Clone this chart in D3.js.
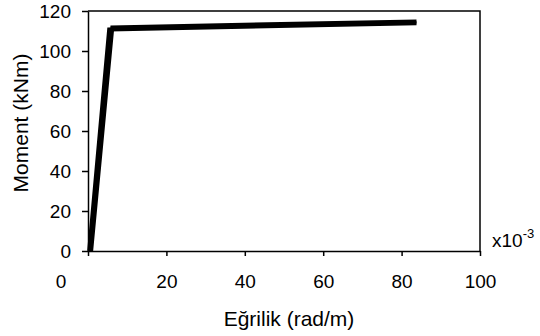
<!DOCTYPE html>
<html>
<head>
<meta charset="utf-8">
<script src="https://cdn.jsdelivr.net/npm/d3@7"></script>
<style>
  html, body { margin: 0; padding: 0; background: #fff; }
  text { font-family: "Liberation Sans", Arial, sans-serif; fill: #000; }
</style>
</head>
<body>
<svg id="chart" width="540" height="336"></svg>
<script>
// Moment–curvature curves (curvature in 10^-3 rad/m, moment in kNm)
const curvatureA = [0.3, 5.4, 83.8];
const momentA    = [0, 110.8, 113.9];
const curvatureB = [0.8, 6.2, 83.8];
const momentB    = [0, 111.8, 114.8];

const xTicks = [0, 20, 40, 60, 80, 100];
const yTicks = [0, 20, 40, 60, 80, 100, 120];

const xTitle = "Eğrilik (rad/m)";
const yTitle = "Moment (kNm)";

const svg = d3.select("#chart");
const plotLeft = 88, plotRight = 480, plotTop = 11, plotBottom = 251;
const tickFont = 19, titleFont = 21;

const x = d3.scaleLinear().domain([0, 100]).range([plotLeft, plotRight]);
const y = d3.scaleLinear().domain([0, 120]).range([plotBottom, plotTop]);

// plot frame (top and right edges)
svg.append("path")
  .attr("d", `M${plotLeft},${plotTop}H${plotRight}V${plotBottom}`)
  .attr("fill", "none").attr("stroke", "#000").attr("stroke-width", 1.5);

// y axis
const yAxis = svg.append("g")
  .attr("transform", `translate(${plotLeft},0)`)
  .call(d3.axisLeft(y).tickValues(yTicks).tickSize(6).tickPadding(11).tickSizeOuter(0));
yAxis.select(".domain").attr("stroke-width", 1.5);
yAxis.selectAll("line").attr("stroke-width", 1.5);
yAxis.selectAll("text").attr("font-size", tickFont).style("font-family", "Liberation Sans, Arial, sans-serif");

// x axis
const xAxis = svg.append("g")
  .attr("transform", `translate(0,${plotBottom})`)
  .call(d3.axisBottom(x).tickValues(xTicks).tickSize(5).tickPadding(19).tickSizeOuter(0));
xAxis.select(".domain").attr("stroke-width", 1.5);
xAxis.selectAll("line").attr("stroke-width", 1.5);
xAxis.selectAll("text").attr("font-size", tickFont).style("font-family", "Liberation Sans, Arial, sans-serif")
  .attr("dx", d => d === 0 ? -27.5 : 0);

// axis titles
svg.append("text")
  .attr("x", 289).attr("y", 326)
  .attr("text-anchor", "middle").attr("font-size", titleFont)
  .text(xTitle);

svg.append("text")
  .attr("transform", "translate(28,123) rotate(-90)")
  .attr("text-anchor", "middle").attr("font-size", titleFont)
  .text(yTitle);

// scale multiplier
const mult = svg.append("text").attr("x", 492).attr("y", 247).attr("font-size", tickFont);
mult.append("tspan").text("x10");
mult.append("tspan").attr("dy", -9).attr("font-size", 13).text("-3");

// curves
const line = d3.line().x(d => x(d[0])).y(d => y(d[1]));
[[curvatureA, momentA], [curvatureB, momentB]].forEach(([cx, my]) => {
  svg.append("path")
    .datum(cx.map((v, i) => [v, my[i]]))
    .attr("d", line)
    .attr("fill", "none")
    .attr("stroke", "#000")
    .attr("stroke-width", 4)
    .attr("stroke-linejoin", "miter");
});
</script>
</body>
</html>
